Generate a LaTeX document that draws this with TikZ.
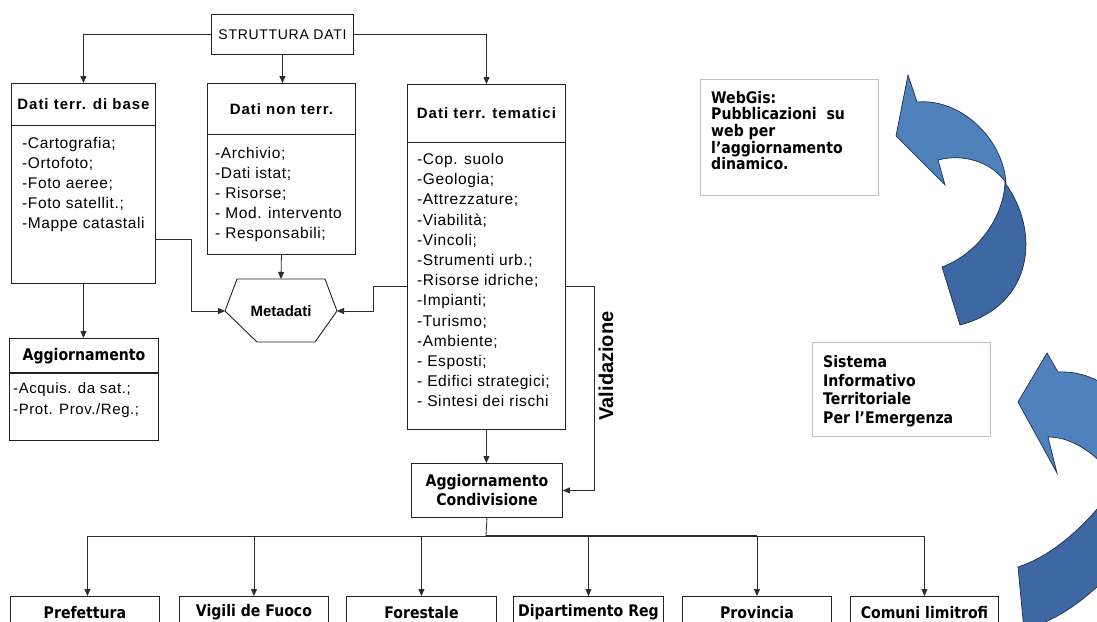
\documentclass[tikz,border=0pt]{standalone}
\usepackage{fontspec}
\setmainfont{Liberation Sans}
\newfontfamily\lstfont[LetterSpace=4]{Liberation Sans}
\newfontfamily\hdrfont[LetterSpace=6.5]{Liberation Sans}
\newfontfamily\titfont[LetterSpace=5]{Liberation Sans}
\newfontfamily\tahfont[FakeStretch=0.88]{DejaVu Sans}
\usetikzlibrary{arrows.meta}
\definecolor{boxc}{RGB}{35,35,35}
\definecolor{linec}{RGB}{45,45,45}
\definecolor{blueL}{RGB}{79,129,189}
\definecolor{blueD}{RGB}{61,104,163}
\definecolor{blueE}{RGB}{30,45,80}
\definecolor{paleb}{RGB}{185,195,210}
\begin{document}
\begin{tikzpicture}[x=1pt,y=-1pt,
  bx/.style 2 args={draw=boxc, line width=0.9pt, inner sep=0pt, anchor=north west, minimum width=#1pt, minimum height=#2pt},
  pale/.style 2 args={draw=paleb, line width=0.8pt, inner sep=0pt, anchor=north west, minimum width=#1pt, minimum height=#2pt},
  arr/.style={draw=linec, line width=0.8pt, -{Triangle[length=7pt,width=6pt]}},
  ln/.style={draw=linec, line width=0.8pt},
  hd/.style={font=\hdrfont\bfseries\fontsize{15}{18}\selectfont},
  ls/.style={font=\lstfont\fontsize{15.5}{20}\selectfont, align=left, anchor=north west, inner sep=0pt},
  th/.style={font=\tahfont\bfseries\fontsize{16}{19}\selectfont},
  tl/.style={font=\tahfont\bfseries\fontsize{16}{#1}\selectfont, align=left, anchor=north west, inner sep=0pt},
  bandL/.style={fill=blueL, draw=blueE, line width=0.7pt},
  bandD/.style={fill=blueD, draw=blueE, line width=0.7pt}]
\useasboundingbox (0,0) rectangle (1097,621);
\clip (0,0) rectangle (1097,621);
\fill[white] (0,0) rectangle (1097,621);

% top
\node[bx={142}{40}, font=\titfont\fontsize{14}{16}\selectfont] (strutt) at (211,14) {STRUTTURA DATI};

% Dati terr. di base
\node[bx={144}{42},hd] (baseh) at (11,83) {Dati terr. di base};
\node[bx={144}{158}] (baseb) at (11,125) {};
\node[ls] (basel) at (22,137) {-Cartografia;\\-Ortofoto;\\-Foto aeree;\\-Foto satellit.;\\-Mappe catastali};

% Dati non terr.
\node[bx={148}{51},hd] (nonh) at (207,83) {Dati non terr.};
\node[bx={148}{120}] (nonb) at (207,134) {};
\node[ls] (nonl) at (215,147) {-Archivio;\\-Dati istat;\\- Risorse;\\- Mod. intervento\\- Responsabili;};

% Dati terr. tematici
\node[bx={158}{58},hd] (temh) at (407,84) {Dati terr. tematici};
\node[bx={158}{287}] (temb) at (407,142) {};
\node[ls, font=\lstfont\fontsize{15.5}{20.2}\selectfont] (teml) at (417,153) {-Cop. suolo\\-Geologia;\\-Attrezzature;\\-Viabilità;\\-Vincoli;\\-Strumenti urb.;\\-Risorse idriche;\\-Impianti;\\-Turismo;\\-Ambiente;\\- Esposti;\\- Edifici strategici;\\- Sintesi dei rischi};

% Aggiornamento
\node[bx={149}{35}, th] (aggh) at (9,338) {Aggiornamento};
\node[bx={149}{67}] (aggb) at (9,373) {};
\draw[draw=boxc, line width=1.6pt] (aggb.north west) -- (aggb.north east);
\node[ls, font=\lstfont\fontsize{15}{21}\selectfont] (aggl) at (13,382) {-Acquis. da sat.;\\-Prot. Prov./Reg.;};

% Metadati
\coordinate (metaL) at (225,311);
\coordinate (metaR) at (337,311);
\coordinate (metaT) at (281,279);
\draw[draw=boxc, line width=0.9pt] (metaL) -- (237,279) -- (325,279) -- (metaR) -- (315,342) -- (257,342) -- cycle;
\node[font=\bfseries\fontsize{15}{18}\selectfont] (meta) at (281,311) {Metadati};

% Aggiornamento Condivisione
\node[bx={151}{54}, th, align=center] (aggc) at (411,463) {Aggiornamento\\Condivisione};

% Validazione
\node[font=\bfseries\fontsize{20}{22}\selectfont, rotate=90] (valid) at (606,366) {Validazione};

% bottom boxes
\node[bx={149}{32}, th] (pref) at (10,596) {Prefettura};
\node[bx={149}{32}, th] (vig) at (179,596) {Vigili de Fuoco};
\node[bx={150}{32}, th] (fore) at (346,596) {Forestale};
\node[bx={150}{32}, th] (dip) at (513,596) {Dipartimento Reg};
\node[bx={149}{32}, th] (prov) at (682,596) {Provincia};
\node[bx={148}{32}, th] (com) at (850,596) {Comuni limitrofi};

% right text boxes
\node[pale={178}{116}] (webb) at (700,79) {};
\node[tl=16.6] (webt) at (711,91) {WebGis:\\Pubblicazioni\ \ su\\web per\\l’aggiornamento\\dinamico.};
\node[pale={178}{94}] (sitb) at (812,342) {};
\node[tl=18.7] (sitt) at (823,355) {Sistema\\Informativo\\Territoriale\\Per l’Emergenza};

% connectors
\draw[arr] (strutt.west) -| (baseh.north);
\draw[arr] (strutt.east) -| (temh.north);
\draw[arr] (strutt.south) -- (strutt.south |- nonh.north);
\draw[arr] ([yshift=-35pt]baseb.east) -- ++(35,0) |- (metaL);
\draw[arr] (nonb.south) -- (metaT);
\draw[arr] (temb.west) -- ++(-34,0) |- (metaR);
\draw[arr] (baseb.south) -- (baseb.south |- aggh.north);
\draw[arr] (temb.east) -- ++(28,0) |- (aggc.east);
\draw[arr] (temb.south) -- (temb.south |- aggc.north);
\coordinate (bus) at (486,536);
\draw[ln] (aggc.south) -- (bus);
\draw[arr] (bus) -| ([xshift=2.5pt]pref.north);
\draw[arr] (bus) -| (vig.north);
\draw[arr] (bus) -| (fore.north);
\draw[arr] (bus) -| (dip.north);
\draw[arr] (bus) -| (prov.north);
\draw[arr] (bus) -| (com.north);
\draw[draw=linec, line width=1.8pt] (bus) -- (bus -| prov.north);

% blue curved arrows
\path[bandD] (1005,183) .. controls (1040,230) and (1035,305) .. (960,325) -- (942,267) .. controls (975,255) and (1003,220) .. (1005,183) -- cycle;
\path[bandL] (908,75) -- (917,102) .. controls (960,98) and (1003,138) .. (1006,183) .. controls (993,163) and (965,153) .. (938,160) -- (945,185) -- (896,136) -- cycle;
\path[bandD] (1140,440) .. controls (1120,490) and (1070,550) .. (1018,567) -- (1024,630) .. controls (1065,618) and (1100,590) .. (1140,540) -- cycle;
\path[bandL] (1047,353) -- (1058,372) .. controls (1090,370) and (1120,390) .. (1140,420) -- (1140,510) .. controls (1110,465) and (1080,437) .. (1048,437) -- (1057,473) -- (1018,402) -- cycle;
\end{tikzpicture}
\end{document}
